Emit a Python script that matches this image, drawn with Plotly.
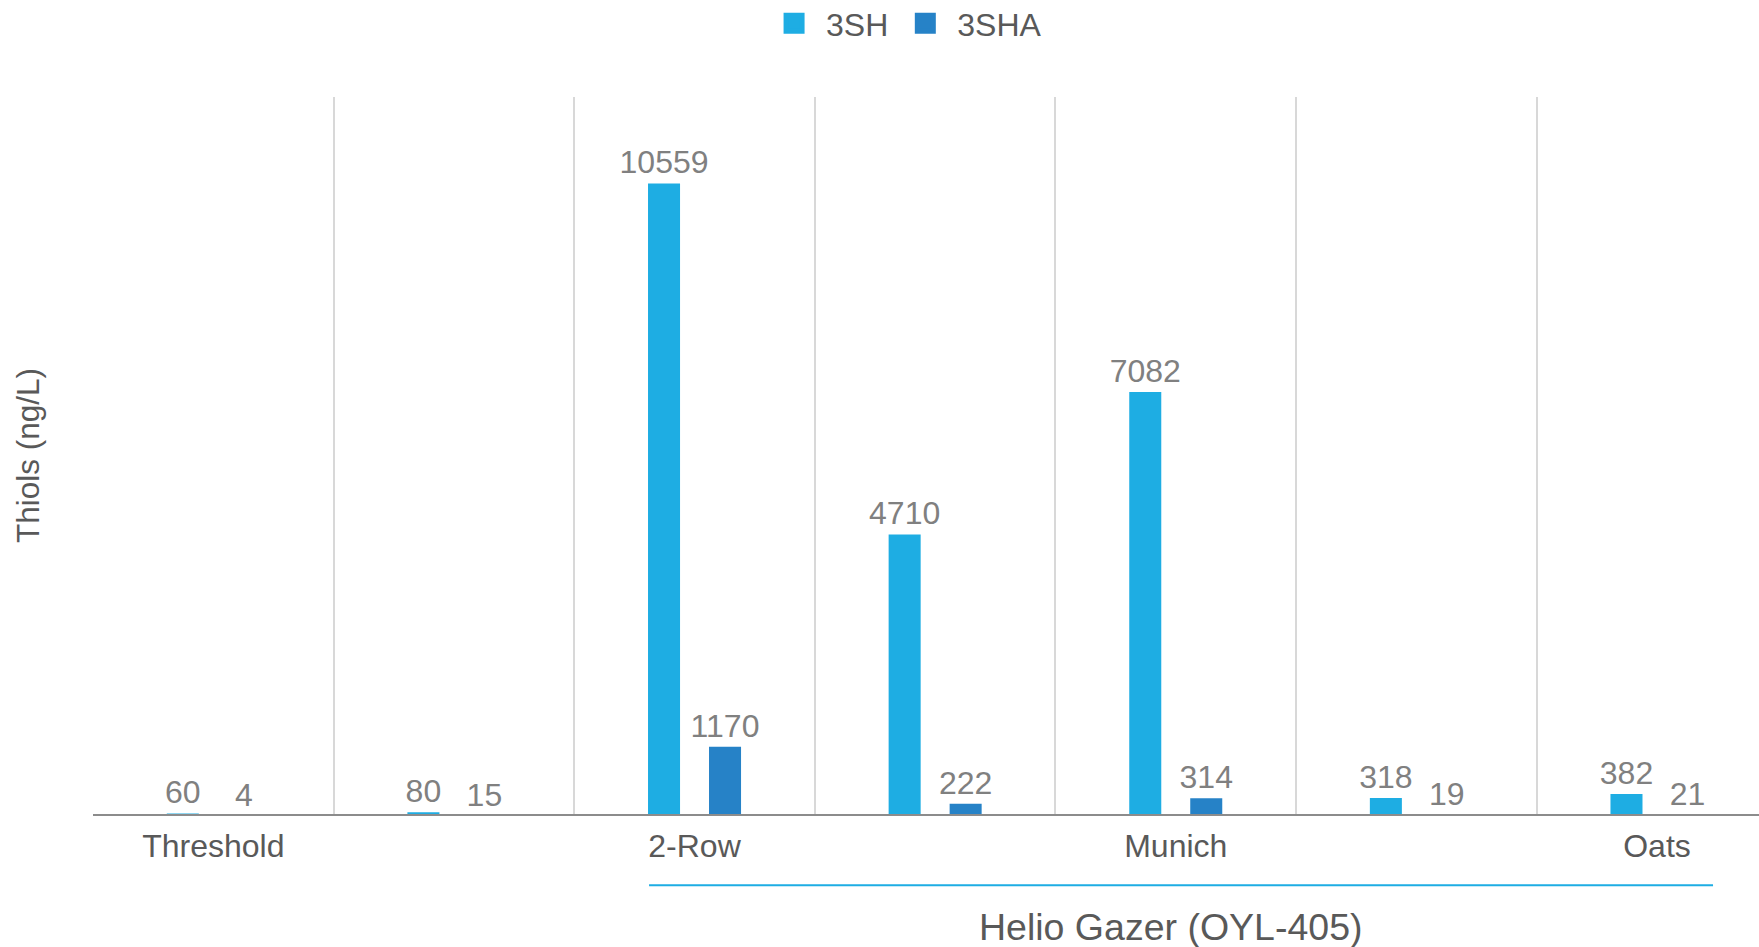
import plotly.graph_objects as go

# ---- data ----
positions = [0, 1, 2, 3, 4, 5, 6]
tick_labels = ["Threshold", "", "2-Row", "", "Munich", "", "Oats"]
sh_values = [60, 80, 10559, 4710, 7082, 318, 382]
sha_values = [4, 15, 1170, 222, 314, 19, 21]
series_names = ["3SH", "3SHA"]
group_label = "Helio Gazer (OYL-405)"
group_start, group_end = 2, 6

C_SH = "#1EADE3"
C_SHA = "#2682C7"
FONT = "Liberation Sans, Arial, Helvetica, sans-serif"
LABEL_GRAY = "#808080"
TEXT_DARK = "#595959"

fig = go.Figure()
for name, vals, col in [(series_names[0], sh_values, C_SH), (series_names[1], sha_values, C_SHA)]:
    fig.add_trace(go.Bar(
        x=positions, y=vals, name=name, marker=dict(color=col, line=dict(width=0)),
        text=[str(v) for v in vals], textposition="outside", constraintext="none",
        cliponaxis=True, textfont=dict(size=32, color=LABEL_GRAY, family=FONT),
        showlegend=False, hoverinfo="x+y",
    ))
    fig.add_trace(go.Scatter(
        x=[None], y=[None], mode="markers", name=name,
        marker=dict(symbol="square", size=16, color=col, line=dict(width=5, color=col)),
        showlegend=True,
    ))

fig.update_layout(
    width=1759, height=947, autosize=False,
    margin=dict(l=93, r=0, t=97, b=133, autoexpand=False),
    paper_bgcolor="white", plot_bgcolor="white",
    barmode="group", bargap=0.493, bargroupgap=0.475,
    font=dict(family=FONT, color=TEXT_DARK),
    legend=dict(orientation="h", x=0.4016, xanchor="left", y=1.1026, yanchor="middle",
                itemwidth=54,
                font=dict(size=32, color=TEXT_DARK, family=FONT), bgcolor="rgba(0,0,0,0)"),
    xaxis=dict(
        range=[-0.5, 6.424], tickmode="array", tickvals=positions, ticktext=tick_labels,
        showgrid=False, zeroline=False, showline=True, linecolor="#8c8c8c", linewidth=2,
        ticks="", ticklabelstandoff=3, tickfont=dict(size=32, color=TEXT_DARK, family=FONT),
        minor=dict(tick0=-0.5, dtick=1, showgrid=True, gridcolor="#d8d8d8", gridwidth=2, ticks=""),
        fixedrange=True, automargin=False,
    ),
    yaxis=dict(
        range=[50, 12000], showticklabels=False, showgrid=False, zeroline=False, showline=False,
        ticks="", title=dict(text="Thiols (ng/L)", font=dict(size=31.5, color=TEXT_DARK, family=FONT), standoff=42),
        automargin=False,
    ),
)

# group bracket line under categories
fig.add_shape(type="line", xref="x", yref="paper", x0=group_start - 0.189, x1=group_end + 0.233,
              y0=-0.0995, y1=-0.0995, line=dict(color=C_SH, width=2))
fig.add_annotation(text=group_label, xref="x", yref="paper", x=(group_start + group_end) / 2 - 0.023,
                   y=-0.158, yanchor="middle", showarrow=False,
                   font=dict(size=37.5, color=TEXT_DARK, family=FONT))

fig.write_html("out.html")
